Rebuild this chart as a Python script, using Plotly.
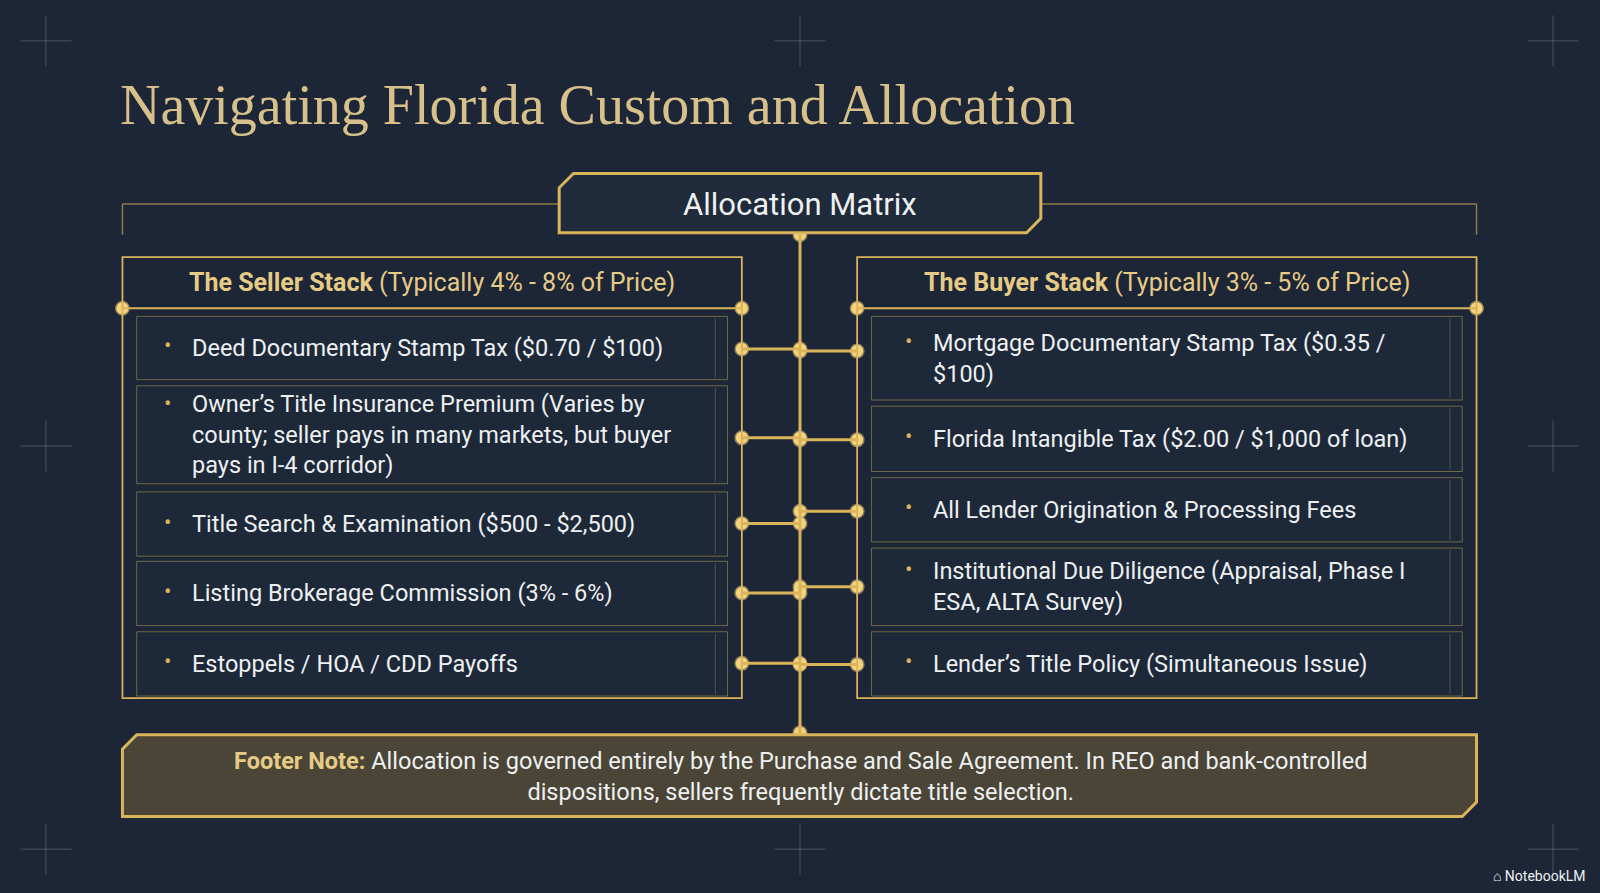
import plotly.graph_objects as go

W, H = 1568, 875
title = "Navigating Florida Custom and Allocation"
matrix_label = "Allocation Matrix"
seller_head = ("The Seller Stack", "(Typically 4% - 8% of Price)")
buyer_head = ("The Buyer Stack", "(Typically 3% - 5% of Price)")
seller_items = ["Deed Documentary Stamp Tax ($0.70 / $100)",
                "Owner’s Title Insurance Premium (Varies by<br>county; seller pays in many markets, but buyer<br>pays in I-4 corridor)",
                "Title Search & Examination ($500 - $2,500)",
                "Listing Brokerage Commission (3% - 6%)",
                "Estoppels / HOA / CDD Payoffs"]
buyer_items = ["Mortgage Documentary Stamp Tax ($0.35 /<br>$100)",
               "Florida Intangible Tax ($2.00 / $1,000 of loan)",
               "All Lender Origination & Processing Fees",
               "Institutional Due Diligence (Appraisal, Phase I<br>ESA, ALTA Survey)",
               "Lender’s Title Policy (Simultaneous Issue)"]
seller_rows = [(310, 372), (378, 474), (482, 545), (550, 613), (619, 682)]
buyer_rows = [(310, 392), (398, 462), (468, 531), (537, 613), (619, 682)]
seller_dot_y = [342, 429, 513, 581, 650]
buyer_dot_y = [344, 431, 501, 575, 651]
footer = ("Footer Note:", "Allocation is governed entirely by the Purchase and Sale Agreement. In REO and bank-controlled<br>dispositions, sellers frequently dictate title selection.")

GOLD = "#d9b45a"
BG = "#1c2636"
TXT = "#eef0f2"
shapes, ann = [], []
fig = go.Figure()

def line(x0, y0, x1, y1, w=2, c=GOLD):
    shapes.append(dict(type="line", x0=x0, y0=y0, x1=x1, y1=y1, line=dict(color=c, width=w)))

def rect(x0, y0, x1, y1, c=GOLD, w=1.5, fill="rgba(0,0,0,0)"):
    shapes.append(dict(type="rect", x0=x0, y0=y0, x1=x1, y1=y1, line=dict(color=c, width=w), fillcolor=fill))

for cx, cy in [(45, 40), (784, 40), (1522, 40), (45, 437), (1522, 437), (45, 832), (784, 832), (1522, 832)]:
    line(cx - 25, cy, cx + 25, cy, 1, "rgba(160,170,190,0.35)")
    line(cx, cy - 25, cx, cy + 25, 1, "rgba(160,170,190,0.35)")

line(120, 200, 548, 200, 1.5, "rgba(217,180,90,0.6)")
line(1020, 200, 1447, 200, 1.5, "rgba(217,180,90,0.6)")
line(120, 200, 120, 230, 1.5, "rgba(217,180,90,0.6)")
line(1447, 200, 1447, 230, 1.5, "rgba(217,180,90,0.6)")
shapes.append(dict(type="path", path="M 562 170 L 1020 170 L 1020 214 L 1006 228 L 548 228 L 548 184 Z",
                   line=dict(color=GOLD, width=3), fillcolor="#1f2a3a"))
ann.append(dict(x=784, y=200, text=matrix_label, font=dict(size=31, color=TXT, family="Roboto")))

LH = 29
for (x0, x1, rows, items, head, tx) in [(120, 727, seller_rows, seller_items, seller_head, 66),
                                         (840, 1447, buyer_rows, buyer_items, buyer_head, 72)]:
    rect(x0, 252, x1, 684, w=1.8)
    line(x0, 302, x1, 302, 2)
    ann.append(dict(x=(x0 + x1) / 2, y=277, text=f"<b>{head[0]}</b> {head[1]}",
                    font=dict(size=25, color="#e6cb86", family="Roboto")))
    for (r0, r1), it in zip(rows, items):
        rect(x0 + 14, r0, x1 - 14, r1, c="rgba(217,180,90,0.45)", w=1, fill="rgba(30,42,58,0.9)")
        line(x1 - 26, r0 + 2, x1 - 26, r1 - 2, 1, "rgba(217,180,90,0.3)")
        n = it.count("<br>") + 1
        cy = (r0 + r1) / 2
        ann.append(dict(x=x0 + tx - 27, y=cy - (n - 1) * LH / 2 - 2, text="•", xanchor="left",
                        font=dict(size=22, color=GOLD, family="Roboto")))
        ann.append(dict(x=x0 + tx, y=cy, text=it, xanchor="left", align="left",
                        font=dict(size=23.5, color=TXT, family="Roboto")))

line(784, 230, 784, 718, 3)
dots_x, dots_y = [784, 784, 1447, 120, 727, 840], [230, 718, 302, 302, 302, 302]
for ys, yb in zip(seller_dot_y, buyer_dot_y):
    line(727, ys, 784, ys, 3)
    line(784, yb, 840, yb, 3)
    dots_x += [727, 784, 784, 840]
    dots_y += [ys, ys, yb, yb]
fig.add_trace(go.Scatter(x=dots_x, y=dots_y, mode="markers", hoverinfo="skip",
                         marker=dict(size=12, color="#f3d27a", line=dict(color="rgba(255,220,130,0.5)", width=3))))

shapes.append(dict(type="path", path="M 134 720 L 1447 720 L 1447 786 L 1433 800 L 120 800 L 120 734 Z",
                   line=dict(color=GOLD, width=3), fillcolor="#4a4536"))
ann.append(dict(x=784, y=761, text=f"<b><span style='color:#e6cb86'>{footer[0]}</span></b> {footer[1]}",
                font=dict(size=23.5, color=TXT, family="Roboto")))

ann.append(dict(x=116, y=103, text=title, xanchor="left",
                font=dict(size=56, color="#d8c08a", family="Liberation Serif")))
ann.append(dict(x=1556, y=858, text="⌂ NotebookLM", xanchor="right",
                font=dict(size=14, color=TXT, family="Roboto")))
for a in ann:
    a.update(showarrow=False, xref="x", yref="y")

fig.update_layout(width=1600, height=893, margin=dict(l=0, r=0, t=0, b=0),
                  paper_bgcolor=BG, plot_bgcolor=BG, showlegend=False,
                  shapes=shapes, annotations=ann,
                  xaxis=dict(range=[0, W], visible=False, fixedrange=True),
                  yaxis=dict(range=[H, 0], visible=False, fixedrange=True))
fig.write_html("out.html", config={"displayModeBar": False},
               post_script="document.body.style.margin='0';document.body.style.background='#1c2636';")
